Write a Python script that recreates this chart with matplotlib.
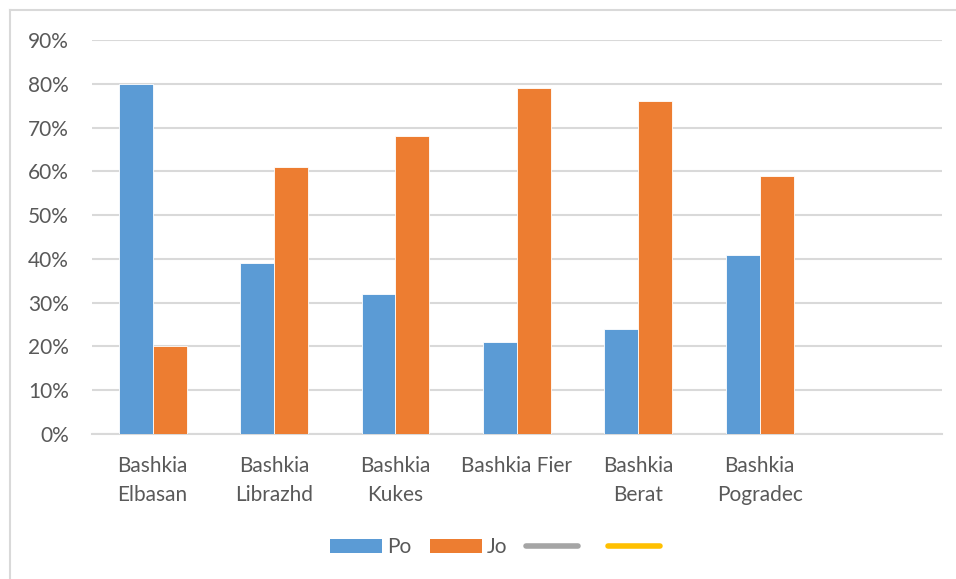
import numpy as np
import matplotlib
matplotlib.use("Agg")
import matplotlib.pyplot as plt
from matplotlib.lines import Line2D
from matplotlib.patches import Patch

# data
categories = ["Bashkia\nElbasan", "Bashkia\nLibrazhd", "Bashkia\nKukes",
              "Bashkia Fier", "Bashkia\nBerat", "Bashkia\nPogradec", ""]
po = [0.80, 0.39, 0.32, 0.21, 0.24, 0.41, np.nan]
jo = [0.20, 0.61, 0.68, 0.79, 0.76, 0.59, np.nan]
yticks = [0.0, 0.1, 0.2, 0.3, 0.4, 0.5, 0.6, 0.7, 0.8, 0.9]

blue = "#5b9bd5"
orange = "#ed7d31"
grid_c = "#d9d9d9"
text_c = "#595959"

plt.rcParams["font.family"] = ["Lato", "DejaVu Sans"]

fig = plt.figure(figsize=(9.56, 5.79), dpi=100)
ax = fig.add_axes([0.0962, 0.2504, 0.889, 0.6805])

x = np.arange(len(categories))
w = 0.28
ax.bar(x - w / 2, po, w, color=blue, edgecolor="white", linewidth=0.6, zorder=3)
ax.bar(x + w / 2, jo, w, color=orange, edgecolor="white", linewidth=0.6, zorder=3)

ax.set_xlim(-0.5, len(categories) - 0.5)
ax.set_ylim(0, 0.9)
ax.set_yticks(yticks)
ax.set_yticklabels([f"{int(round(v * 100))}%" for v in yticks])
ax.set_xticks(x)
ax.set_xticklabels(categories, linespacing=1.55)

ax.grid(axis="y", color=grid_c, linewidth=1.5, zorder=0)
for s in ["top", "right", "left"]:
    ax.spines[s].set_visible(False)
ax.spines["bottom"].set_color(grid_c)
ax.spines["bottom"].set_linewidth(1.5)
ax.tick_params(axis="both", length=0, labelsize=15, colors=text_c)
ax.tick_params(axis="y", pad=16.5)
ax.tick_params(axis="x", pad=16)

# legend (the two line series are empty in the source)
handles = [
    Patch(facecolor=blue, label="Po"),
    Patch(facecolor=orange, label="Jo"),
    Line2D([0], [0], color="#a5a5a5", lw=4, solid_capstyle="round", label=" "),
    Line2D([0], [0], color="#ffc000", lw=4, solid_capstyle="round", label=" "),
]
leg = fig.legend(handles=handles, loc="center", bbox_to_anchor=(0.523, 0.055),
                 ncol=4, frameon=False, fontsize=15, handlelength=2.5,
                 handleheight=0.62, handletextpad=0.25, columnspacing=0.9)
for t in leg.get_texts():
    t.set_color(text_c)

# outer chart frame (only top and left edges are visible)
fig.add_artist(Line2D([10 / 956, 1], [1 - 10 / 579, 1 - 10 / 579],
                      color=grid_c, lw=1.5, transform=fig.transFigure))
fig.add_artist(Line2D([10 / 956, 10 / 956], [0, 1 - 10 / 579],
                      color=grid_c, lw=1.5, transform=fig.transFigure))

fig.savefig("out.png", dpi=100, facecolor="white")
